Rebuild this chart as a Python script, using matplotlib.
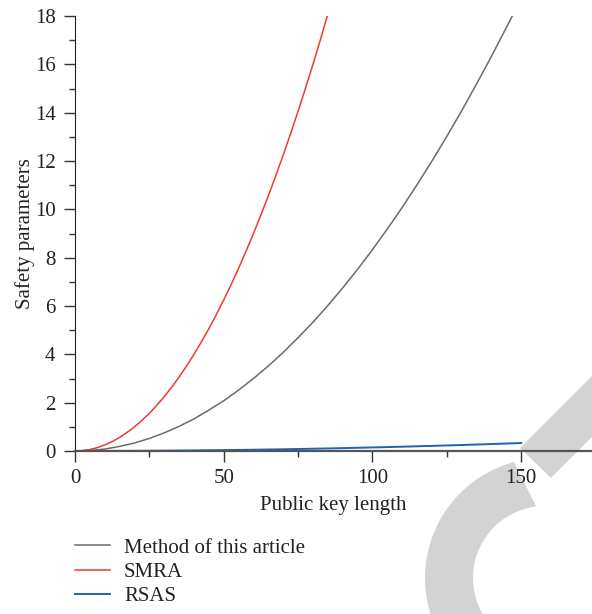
import matplotlib
matplotlib.use("Agg")
import matplotlib.pyplot as plt
from matplotlib.patches import Polygon
from matplotlib.transforms import IdentityTransform
from matplotlib.ticker import MultipleLocator
import numpy as np

plt.rcParams["font.family"] = ["Liberation Serif", "DejaVu Serif"]

# values
x_method = [0, 5, 10, 15, 20, 25, 30, 35, 40, 45, 50, 55, 60, 65, 70, 75, 80,
            85, 90, 95, 100, 105, 110, 115, 120, 125, 130, 135, 140, 145, 147]
y_method = [0, 0.02, 0.08, 0.19, 0.33, 0.52, 0.75, 1.02, 1.33, 1.69, 2.08,
            2.52, 3.0, 3.52, 4.08, 4.69, 5.33, 6.02, 6.75, 7.52, 8.33, 9.19,
            10.08, 11.02, 12.0, 13.02, 14.08, 15.19, 16.33, 17.52, 18.0]

x_smra = [0, 2.5, 5, 7.5, 10, 12.5, 15, 17.5, 20, 22.5, 25, 27.5, 30, 32.5,
          35, 37.5, 40, 42.5, 45, 47.5, 50, 52.5, 55, 57.5, 60, 62.5, 65,
          67.5, 70, 72.5, 75, 77.5, 80, 82.5, 84.8]
y_smra = [0, 0.02, 0.06, 0.14, 0.25, 0.39, 0.56, 0.77, 1.0, 1.27, 1.56, 1.89,
          2.25, 2.64, 3.06, 3.52, 4.0, 4.52, 5.06, 5.64, 6.25, 6.89, 7.56,
          8.27, 9.0, 9.77, 10.56, 11.39, 12.25, 13.14, 14.06, 15.02, 16.0,
          17.02, 18.0]

x_rsas = [0, 10, 20, 30, 40, 50, 60, 70, 80, 90, 100, 110, 120, 130, 140, 150]
y_rsas = [0, 0.0015, 0.006, 0.013, 0.024, 0.037, 0.053, 0.072, 0.094, 0.119,
          0.147, 0.178, 0.212, 0.248, 0.288, 0.33]

labels = ["Method of this article", "SMRA", "RSAS"]
colors = ["#6b6b6b", "#f03a2e", "#1c65b0"]

W, H = 592, 614
fig = plt.figure(figsize=(W / 100, H / 100), dpi=100)
ax = fig.add_axes([75 / W, (H - 451) / H, 517 / W, 435 / H])
ax.set_facecolor("none")


def px(points):
    # top-left pixel coords -> display coords
    return [(x, H - y) for x, y in points]


# light grey watermark shapes behind the chart
bar = Polygon(px([(520, 448), (551, 478), (661, 368), (630, 338)]), closed=True,
              transform=IdentityTransform(), facecolor="#d3d3d3", edgecolor="none", zorder=-1)
fig.patches.append(bar)
cx, cy = 545, H - 578
t_out = np.radians(np.linspace(105, 260, 80))
t_in = np.radians(np.linspace(260, 97, 80))
ring = [(cx + 120 * np.cos(t), cy + 120 * np.sin(t)) for t in t_out]
ring += [(cx + 72 * np.cos(t), cy + 72 * np.sin(t)) for t in t_in]
fig.patches.append(Polygon(ring, closed=True, transform=IdentityTransform(),
                           facecolor="#d3d3d3", edgecolor="none", zorder=-1))

ax.plot(x_method, y_method, color=colors[0], lw=1.1, label=labels[0])
ax.plot(x_smra, y_smra, color=colors[1], lw=1.1, label=labels[1])
ax.plot(x_rsas, y_rsas, color=colors[2], lw=1.4, label=labels[2])

ax.set_xlim(0, 173.8)
ax.set_ylim(0, 18)
ax.xaxis.set_major_locator(MultipleLocator(50))
ax.xaxis.set_minor_locator(MultipleLocator(25))
ax.yaxis.set_major_locator(MultipleLocator(2))
ax.yaxis.set_minor_locator(MultipleLocator(1))
for s in ["top", "right"]:
    ax.spines[s].set_visible(False)
ax.spines["left"].set_color("#222222")
ax.spines["bottom"].set_color("#555555")
ax.spines["bottom"].set_linewidth(1.6)
ax.tick_params(which="major", length=8, width=1, labelsize=15, color="#333333",
               labelcolor="#222222")
ax.tick_params(which="minor", length=4.5, width=1, color="#333333")
ax.tick_params(axis="y", which="major", pad=6)
ax.tick_params(axis="x", which="major", pad=5)
ax.set_xlabel("Public key length", fontsize=15, color="#222222", labelpad=6)
ax.set_ylabel("Safety parameters", fontsize=15, color="#222222", labelpad=0)

fig.legend(loc="upper left", bbox_to_anchor=(75 / W, (H - 538) / H), frameon=False,
           fontsize=15, handlelength=1.68, handletextpad=0.67, labelspacing=0.23,
           borderpad=0, borderaxespad=0, labelcolor="#222222")

fig.savefig("out.png", dpi=100)
